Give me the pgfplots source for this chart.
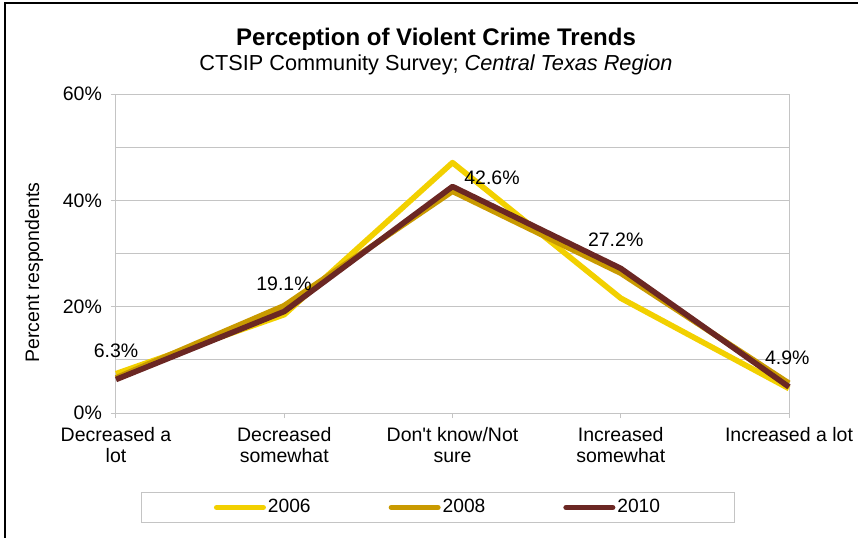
\documentclass[border=0pt]{standalone}
\usepackage{pgfplots}
\pgfplotsset{compat=1.18}
\usepackage{fontspec}
\setmainfont{Liberation Sans}
\definecolor{cA}{HTML}{F2D000}
\definecolor{cB}{HTML}{C99A00}
\definecolor{cC}{HTML}{6B2723}
\definecolor{gridc}{HTML}{C4C4C4}
\begin{document}
\begin{tikzpicture}[x=0.5pt,y=-0.5pt]
\path[use as bounding box] (0,0) rectangle (858,537);
\draw[black, line width=1.1pt] (5,545) -- (5,3) -- (865,3);
\node[font=\fontsize{12}{14}\selectfont\bfseries] at (436,39.5) {Perception of Violent Crime Trends};
\node[font=\fontsize{10.85}{13}\selectfont] at (436,65) {CTSIP Community Survey; \textit{Central Texas Region}};
\begin{axis}[
  at={(58pt,-206.5pt)}, anchor=south west,
  scale only axis, width=336.5pt, height=159.5pt,
  xmin=0, xmax=4, ymin=0, ymax=60,
  clip=false,
  axis line style={gridc, line width=0.5pt},
  xtick={0,1,2,3,4},
  xticklabels={{Decreased a\\lot},{Decreased\\somewhat},{Don\textquotesingle t know/Not\\sure},{Increased\\somewhat},{Increased a lot}},
  xticklabel style={align=center, font=\fontsize{9.75}{10.6}\selectfont, yshift=-1pt},
  ytick={0,20,40,60},
  minor ytick={10,30,50},
  yticklabel={\pgfmathprintnumber{\tick}\%},
  /pgf/number format/assume math mode=true,
  yticklabel style={font=\fontsize{9.75}{11}\selectfont, xshift=-1pt},
  ymajorgrids, yminorgrids,
  major grid style={gridc, line width=0.5pt},
  minor grid style={gridc, line width=0.5pt},
  tick style={gridc, line width=0.5pt},
  major tick length=2.5pt, minor tick length=0pt,
  tick align=outside, xtick pos=bottom, ytick pos=left,
  ylabel={Percent respondents},
  ylabel style={at={(axis description cs:-0.1219,0.44)}, anchor=center, font=\fontsize{9.75}{11}\selectfont},
  legend columns=3,
  legend style={at={(axis description cs:0.4785,-0.2962)}, anchor=center,
    draw=gridc, line width=0.5pt, font=\fontsize{9.6}{11}\selectfont,
    inner xsep=36.4pt, inner ysep=2.3pt,
    nodes={inner xsep=1pt, inner ysep=1pt},
    /tikz/every even column/.append style={column sep=38pt}},
  legend image code/.code={\draw[#1, line width=2.6pt, line cap=round] (0pt,0pt) -- (23.4pt,0pt);},
  every axis plot/.append style={line width=2.8pt, line join=round},
]
\addplot[cA] coordinates {(0,7.4) (1,18.5) (2,47.1) (3,21.6) (4,4.6)};
\addlegendentry{2006}
\addplot[cB] coordinates {(0,6.6) (1,20.2) (2,41.7) (3,26.3) (4,5.6)};
\addlegendentry{2008}
\addplot[cC] coordinates {(0,6.3) (1,19.1) (2,42.6) (3,27.2) (4,4.9)};
\addlegendentry{2010}
\begin{scope}[font=\fontsize{9.75}{11}\selectfont]
\node at (axis cs:0,11.66) {6.3\%};
\node at (axis cs:0.9985,24.26) {19.1\%};
\node at (axis cs:2.235,44.2) {42.6\%};
\node at (axis cs:2.97,32.5) {27.2\%};
\node at (axis cs:3.99,10.3) {4.9\%};
\end{scope}
\end{axis}
\end{tikzpicture}
\end{document}
